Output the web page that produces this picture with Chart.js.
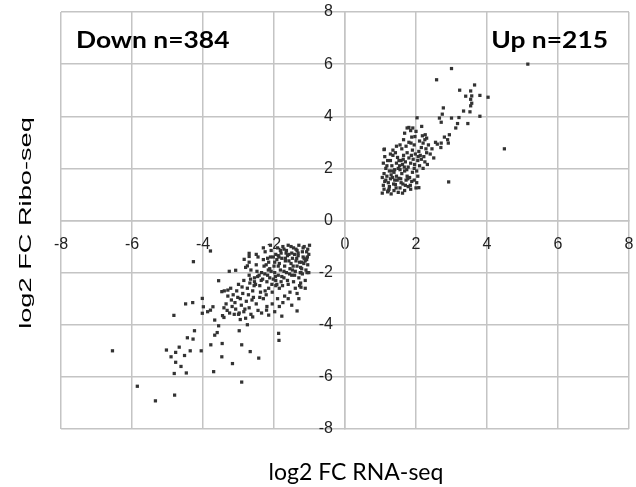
<!DOCTYPE html>
<html>
<head>
<meta charset="utf-8">
<script src="https://cdn.jsdelivr.net/npm/chart.js@4.4.1/dist/chart.umd.min.js"></script>
<style>
  html, body { margin: 0; padding: 0; background: #fff; }
  #wrap { width: 636px; height: 487px; position: relative; }
</style>
</head>
<body>
<div id="wrap"><canvas id="myChart"></canvas></div>
<script>
// tick values on both axes
const tickValues = [-8, -6, -4, -2, 0, 2, 4, 6, 8];

// genes going down (log2 FC RNA-seq, log2 FC Ribo-seq)
const downX = [
  -6.55, -5.85, -5.34, -4.8, -2.91, -3.7, -4.81, -4.47, -4.62, -4.77, -5.03, -4.9, -4.77, -4.67, -4.52, -4.36,
  -4.05, -4.44, -4.28, -4.24, -3.78, -3.46, -3.47, -3.17, -2.91, -2.67, -2.43, -2.98, -3.67, -3.6, -3.56, -4.82,
  -1.87, -1.86, -1.35, -4.27, -3.79, -3.56, -3.26, -3.08, -4.49, -4.29, -4.02, -3.99, -4.02, -3.87, -3.72, -3.79,
  -3.67, -3.41, -3.41, -3.47, -3.3, -1.24, -1.24, -1.07, -2.21, -2.15, -1.98, -1.78, -2.84, -2.7, -2.7, -2.75,
  -1.0, -1.05, -1.02, -1.08, -1.05, -1.1, -1.15, -1.2, -1.18, -1.22, -1.25, -1.2, -1.3, -1.35, -1.32, -1.38,
  -1.35, -1.4, -1.3, -1.45, -1.5, -1.48, -1.52, -1.55, -1.5, -1.45, -1.6, -1.65, -1.62, -1.68, -1.7, -1.65,
  -1.72, -1.6, -1.75, -1.8, -1.78, -1.85, -1.82, -1.88, -1.8, -1.85, -1.9, -1.95, -1.92, -2.0, -1.98, -2.02,
  -1.95, -2.05, -2.08, -2.1, -2.15, -2.12, -2.18, -2.2, -2.15, -2.22, -2.25, -2.3, -2.28, -2.35, -2.32, -2.4,
  -2.38, -2.3, -2.45, -2.5, -2.48, -2.55, -2.52, -2.6, -2.58, -2.5, -2.65, -2.7, -2.68, -2.75, -2.72, -2.78,
  -2.7, -2.65, -2.85, -2.9, -2.88, -2.95, -2.92, -2.85, -2.8, -3.0, -3.05, -3.02, -3.1, -3.08, -3.0, -3.15,
  -3.2, -3.18, -3.25, -3.3, -3.35, -3.32, -1.12, -1.28, -1.4, -1.55, -1.7, -1.9, -2.05, -2.2, -1.6, -1.75,
  -1.35, -2.45, -2.6, -2.35, -2.95, -2.75, -3.4, -3.45, -2.1, -2.3, -2.5, -2.7, -2.8, -1.15, -1.42, -1.58,
  -1.72, -1.88, -1.02, -1.12, -1.25, -1.95, -2.25, -2.4, -1.3, -1.5, -1.85,
  -1.08, -1.18, -1.28, -1.38, -1.48, -1.58, -1.68, -1.78, -1.88, -1.98, -2.08, -2.18,
  -1.12, -1.22, -1.32, -1.42, -1.52, -1.62, -1.72, -1.82, -1.92, -2.02, -2.12, -2.22,
  -1.06, -1.16, -1.26, -1.36, -1.46, -1.56, -1.66, -1.76, -1.86, -1.96, -2.06, -2.16, -2.26, -2.36, -2.46, -2.56,
  -2.62, -2.82, -3.12, -2.55, -2.98, -3.22, -2.42, -2.66
];
const downY = [
  -5.0, -6.36, -6.92, -6.7, -6.2, -5.8, -5.87, -5.85, -5.6, -5.44, -4.97, -5.23, -5.06, -4.86, -5.18, -5.0,
  -5.0, -4.5, -4.55, -4.23, -4.77, -4.72, -5.23, -5.49, -4.77, -5.03, -5.28, -4.23, -4.4, -4.3, -4.04, -3.64,
  -4.33, -4.6, -3.47, -1.58, -1.17, -2.31, -1.95, -1.91, -3.2, -3.15, -2.99, -3.31, -3.56, -3.5, -3.31, -3.44,
  -3.82, -3.72, -3.35, -2.73, -2.67, -2.56, -2.0, -2.0, -3.44, -3.63, -3.5, -3.67, -1.49, -1.38, -1.26, -1.74,
  -0.95, -1.1, -1.3, -1.5, -1.7, -1.9, -1.0, -1.2, -1.4, -1.6, -1.8, -2.05, -0.95, -1.15, -1.35, -1.55,
  -1.75, -1.95, -2.2, -1.05, -1.25, -1.45, -1.65, -1.85, -2.1, -2.35, -0.95, -1.15, -1.35, -1.55, -1.75, -2.0,
  -2.2, -2.45, -1.0, -1.25, -1.45, -1.65, -1.9, -2.1, -2.35, -2.6, -1.05, -1.3, -1.5, -1.75, -2.0, -2.25,
  -2.5, -2.75, -1.15, -1.4, -1.6, -1.85, -2.1, -2.35, -2.6, -2.85, -1.2, -1.5, -1.75, -2.0, -2.25, -2.5,
  -2.75, -3.0, -1.4, -1.7, -1.95, -2.2, -2.45, -2.7, -2.95, -3.2, -1.9, -2.1, -2.4, -2.6, -2.85, -3.1,
  -3.35, -3.6, -2.3, -2.55, -2.8, -3.0, -3.25, -3.5, -3.75, -2.45, -2.7, -2.95, -3.15, -3.4, -3.6, -2.85,
  -3.05, -3.3, -3.55, -2.9, -3.2, -3.45, -2.3, -2.5, -2.6, -2.75, -2.9, -3.0, -3.2, -3.3, -3.0, -3.15,
  -2.8, -3.45, -3.7, -3.55, -3.8, -4.0, -2.7, -3.65, -0.95, -1.05, -1.3, -1.6, -1.8, -1.45, -1.3, -1.55,
  -1.1, -1.35, -2.0, -2.6, -2.4, -2.3, -2.7, -2.95, -3.0, -3.25, -3.3,
  -1.2, -1.05, -1.6, -1.1, -1.9, -1.3, -1.45, -2.15, -1.75, -1.6, -1.95, -1.45,
  -1.55, -1.85, -1.25, -2.1, -1.0, -2.3, -1.95, -1.15, -2.45, -1.4, -2.2, -1.7,
  -1.4, -1.65, -2.0, -1.45, -1.75, -2.05, -1.25, -2.5, -1.4, -2.15, -2.45, -1.9, -2.05, -2.3, -2.15, -2.5,
  -3.05, -3.4, -3.6, -2.35, -3.55, -2.6, -2.1, -2.25
];

// genes going up
const upX = [
  5.15, 3.0, 2.58, 3.65, 3.23, 3.54, 3.4, 3.57, 3.8, 4.03, 3.54, 3.57, 3.54, 2.77, 3.34, 3.52,
  2.74, 3.21, 3.0, 3.8, 2.03, 2.66, 2.71, 3.17, 3.46, 3.12, 1.8, 1.91, 2.16, 2.0, 2.94, 2.26,
  1.68, 1.97, 2.3, 2.89, 2.91, 2.6, 2.71, 1.86, 2.2, 1.11, 4.49, 2.92, 2.08,
  1.05, 1.1, 1.08, 1.12, 1.05, 1.1, 1.15, 1.08, 1.12, 1.1, 1.2, 1.25, 1.22, 1.28, 1.3, 1.25,
  1.32, 1.28, 1.35, 1.3, 1.38, 1.42, 1.4, 1.45, 1.38, 1.5, 1.45, 1.48, 1.42, 1.5, 1.55, 1.58,
  1.52, 1.6, 1.55, 1.62, 1.58, 1.65, 1.6, 1.55, 1.68, 1.7, 1.72, 1.75, 1.68, 1.78, 1.7, 1.8,
  1.75, 1.72, 1.8, 1.85, 1.88, 1.82, 1.9, 1.95, 1.85, 1.92, 1.98, 1.9, 1.95, 1.88, 2.0, 2.05,
  2.02, 2.1, 2.05, 2.12, 2.08, 2.15, 2.1, 2.2, 2.25, 2.22, 2.3, 2.28, 2.35, 2.25, 2.18, 2.4,
  2.45, 2.5, 1.95, 1.4, 1.18, 1.62, 1.35, 1.45, 2.02, 1.78, 1.2, 1.65, 1.85, 1.75, 2.7, 2.8, 2.55,
  1.15, 1.22, 1.33, 1.44, 1.52, 1.63, 1.74, 1.84, 1.96, 2.06, 1.18, 1.28, 1.37, 1.47, 1.57, 1.67,
  1.77, 1.87, 1.24, 1.34, 1.54, 1.64, 2.15, 2.32
];
const upY = [
  6.0, 5.83, 5.4, 5.2, 5.0, 4.97, 4.77, 4.78, 4.8, 4.73, 4.65, 4.5, 4.4, 4.32, 4.2, 4.17,
  4.08, 3.95, 3.93, 4.0, 3.94, 3.93, 3.77, 3.72, 3.72, 3.55, 3.57, 3.55, 3.61, 3.42, 3.29, 3.29,
  3.35, 3.22, 3.16, 3.1, 2.97, 2.93, 2.97, 2.97, 2.97, 2.74, 2.75, 1.48, 1.26,
  1.05, 1.2, 1.35, 1.5, 1.65, 1.8, 2.0, 2.2, 2.45, 2.72, 1.1, 1.3, 1.45, 1.6, 1.75, 1.9,
  2.1, 2.3, 2.5, 1.02, 1.15, 1.38, 1.55, 1.7, 1.85, 2.0, 2.2, 2.42, 2.6, 1.08, 1.25, 1.45,
  1.62, 1.8, 1.95, 2.15, 2.3, 2.5, 2.75, 2.9, 1.15, 1.35, 1.55, 1.7, 1.9, 2.05, 2.25, 2.4,
  2.6, 2.85, 3.0, 1.2, 1.5, 1.65, 1.85, 2.0, 2.2, 2.35, 2.55, 2.7, 2.9, 3.2, 1.25, 1.7,
  1.9, 2.1, 2.3, 2.5, 2.65, 2.8, 3.05, 2.0, 2.25, 2.45, 2.6, 2.75, 2.9, 3.1, 3.25, 2.55,
  2.75, 2.4, 1.55, 1.95, 1.7, 1.05, 2.7, 2.85, 1.45, 1.3, 2.3, 3.1, 3.45, 3.55, 2.8, 3.2, 3.0,
  1.55, 1.15, 1.9, 1.25, 2.3, 1.4, 1.95, 1.35, 2.15, 2.45, 2.1, 2.55, 1.4, 1.55, 1.6, 2.05,
  1.6, 2.5, 1.2, 1.65, 2.1, 2.35, 2.35, 2.15
];

const toPoints = (xs, ys) => xs.map((x, i) => ({ x: x, y: ys[i] }));

const gridColor = '#c4c4c4';
const tickFont = { family: "'Liberation Sans Narrow', 'Arial Narrow', 'Liberation Sans', sans-serif", size: 16 };

// keep the edge tick labels from shrinking the plot area
const noEdgePadding = (scale) => {
  scale.paddingLeft = 0;
  scale.paddingRight = 0;
  scale.paddingTop = 0;
  scale.paddingBottom = 0;
};

// texts that are not part of the axes
const labelsPlugin = {
  id: 'labels',
  afterDraw(chart) {
    const ctx = chart.ctx;
    ctx.save();
    ctx.fillStyle = '#000';
    ctx.textBaseline = 'alphabetic';
    ctx.font = "bold 22px Lato, 'Open Sans', sans-serif";

    ctx.save();
    ctx.translate(76, 48);
    ctx.scale(1.2, 1);
    ctx.textAlign = 'left';
    ctx.fillText('Down n=384', 0, 0);
    ctx.restore();

    ctx.save();
    ctx.translate(608, 48);
    ctx.scale(1.2, 1);
    ctx.textAlign = 'right';
    ctx.fillText('Up n=215', 0, 0);
    ctx.restore();

    ctx.font = "23px Lato, 'Open Sans', sans-serif";
    ctx.textAlign = 'center';
    ctx.fillText('log2 FC RNA-seq', 356, 480);

    // y title, stretched along its length like the original
    ctx.translate(31, 223);
    ctx.rotate(-Math.PI / 2);
    ctx.scale(1.6, 1);
    ctx.font = "17px 'Liberation Sans', Arial, sans-serif";
    ctx.textAlign = 'center';
    ctx.fillText('log2 FC Ribo-seq', 0, 0);
    ctx.restore();
  }
};

const config = {
  type: 'scatter',
  data: {
    datasets: [
      {
        label: 'Down',
        data: toPoints(downX, downY),
        pointStyle: 'rect',
        pointRadius: 2.3,
        backgroundColor: '#333333',
        borderWidth: 0
      },
      {
        label: 'Up',
        data: toPoints(upX, upY),
        pointStyle: 'rect',
        pointRadius: 2.3,
        backgroundColor: '#333333',
        borderWidth: 0
      }
    ]
  },
  options: {
    responsive: true,
    maintainAspectRatio: false,
    animation: false,
    layout: { padding: { left: 61, right: 7, top: 12, bottom: 58 } },
    plugins: {
      legend: { display: false },
      tooltip: { enabled: false }
    },
    scales: {
      x: {
        type: 'linear',
        position: 'center',
        min: -8,
        max: 8,
        afterBuildTicks: (axis) => { axis.ticks = tickValues.map(v => ({ value: v })); },
        afterFit: noEdgePadding,
        grid: { color: gridColor, lineWidth: 1.5, drawTicks: false },
        border: { color: gridColor, width: 1.5 },
        ticks: { color: '#222222', font: tickFont, padding: 14, autoSkip: false, maxRotation: 0 }
      },
      y: {
        type: 'linear',
        position: 'center',
        min: -8,
        max: 8,
        afterBuildTicks: (axis) => { axis.ticks = tickValues.map(v => ({ value: v })); },
        afterFit: noEdgePadding,
        grid: { color: gridColor, lineWidth: 1.5, drawTicks: false },
        border: { color: gridColor, width: 1.5 },
        ticks: { color: '#222222', font: tickFont, padding: 12, autoSkip: false }
      }
    }
  },
  plugins: [labelsPlugin]
};

const myChart = new Chart(document.getElementById('myChart'), config);
</script>
</body>
</html>
